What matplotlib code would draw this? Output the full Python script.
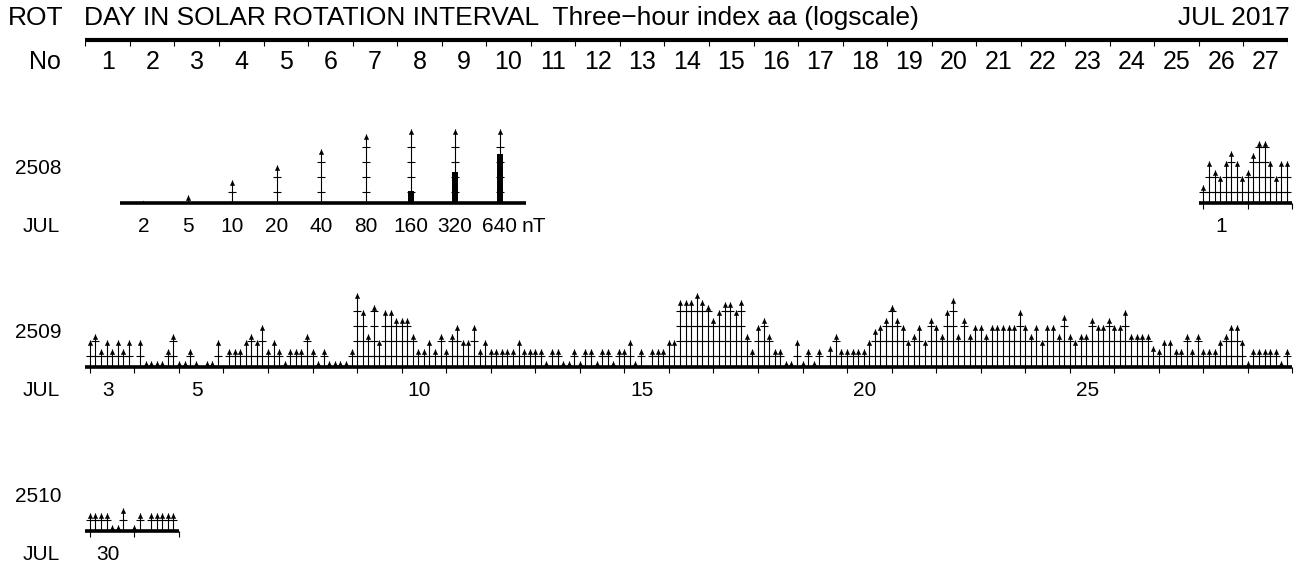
import numpy as np
import matplotlib.pyplot as plt
from matplotlib.path import Path

plt.rcParams['font.family'] = ['Liberation Sans', 'DejaVu Sans']

# ---- data (three-hour aa, nT), 8 values per UT day ----
rotations = [2508, 2509, 2510]
month = "JUL"
title_date = "JUL 2017"

# first UT day shown in each rotation row, and its position (rotation day)
first_date = {2508: 1, 2509: 3, 2510: 30}
first_day_pos = {2508: 25.1, 2509: 0.1, 2510: 0.1}

aa_2508 = [8, 24, 16, 12, 24, 38, 24, 12,
           16, 34, 59, 59, 24, 12, 24, 24]

aa_2509 = [12, 16, 8, 12, 8, 12, 8, 12,
           2, 12, 4.6, 4.6, 4.6, 4.6, 8, 16,
           4.6, 4.6, 8, 4.6, 2, 4.6, 4.6, 12,
           2, 8, 8, 8, 12, 16, 12, 24,
           8, 12, 8, 4.6, 8, 8, 8, 16,
           8, 4.6, 8, 4.6, 4.6, 4.6, 4.6, 8,
           100, 46, 16, 59, 12, 46, 46, 32,
           32, 32, 16, 8, 8, 12, 8, 16,
           8, 16, 24, 12, 12, 24, 8, 12,
           8, 8, 8, 8, 8, 12, 8, 8,
           8, 8, 4.6, 8, 8, 4.6, 4.6, 8,
           4.6, 8, 8, 4.6, 8, 8, 4.6, 8,
           8, 12, 4.6, 8, 2, 8, 8, 8,
           12, 12, 74, 74, 74, 100, 74, 59,
           32, 46, 66, 66, 46, 74, 16, 8,
           24, 32, 16, 8, 8, 4.6, 4.6, 12,
           4.6, 8, 4.6, 8, 2, 9, 16, 8,
           8, 8, 8, 8, 12, 20, 24, 32,
           59, 32, 24, 12, 16, 24, 12, 32,
           24, 16, 46, 80, 16, 32, 16, 24,
           24, 16, 24, 24, 24, 24, 24, 46,
           24, 16, 24, 12, 24, 24, 16, 38,
           16, 12, 16, 16, 32, 24, 24, 32,
           24, 24, 46, 16, 16, 16, 16, 9,
           8, 12, 12, 8, 8, 16, 8, 16,
           8, 8, 8, 12, 16, 24, 24, 12,
           4.6, 8, 8, 8, 8, 8, 4.6, 8]

aa_2510 = [8, 8, 8, 8, 4.6, 4.6, 10, 2,
           4.6, 8, 2, 8, 8, 8, 8, 8]

aa_data = {2508: aa_2508, 2509: aa_2509, 2510: aa_2510}

legend_vals = [2, 5, 10, 20, 40, 80, 160, 320, 640]

# ---- scale settings ----
W, H = 1301, 565
PX = 15.25            # pixels per doubling of aa
BASE = 3.5            # aa value at baseline
CAP = 101.0           # stems are cut here, excess shown as bar
LEVELS = [5.65 * 2 ** k for k in range(5)]
X0, X1 = 85.4, 1288.0
ROW0, ROW_STEP = 203, 164
FS_TITLE = 19
FS_HEAD = 18
FS_ROW = 15

fig = plt.figure(figsize=(W / 100, H / 100), dpi=100)

head = Path([(0, 0), (-0.5, -1), (0.5, -1), (0, 0)],
            [Path.MOVETO, Path.LINETO, Path.LINETO, Path.CLOSEPOLY])


def draw_stems(ax, x, v):
    x = np.asarray(x, float)
    v = np.asarray(v, float)
    tip = np.minimum(v, CAP)
    big = tip >= BASE
    ax.vlines(x[big], BASE, tip[big], color='k', lw=0.8, clip_on=False)
    ax.plot(x[big], tip[big], ls='none', marker=head, ms=7.6, mew=0,
            color='k', clip_on=False)
    small = ~big
    if small.any():
        ax.plot(x[small], np.full(small.sum(), BASE * 2 ** (2.5 / PX)),
                ls='none', marker=head, ms=3.5, mew=0, color='k',
                clip_on=False)
    for lev in LEVELS:
        m = tip > lev * 1.2
        if m.any():
            ax.plot(x[m], np.full(m.sum(), lev), ls='none', marker='_',
                    ms=5.2, mew=0.8, color='k', clip_on=False)
    over = v > CAP
    if over.any():
        top = BASE * 2 ** (18.2 * np.log2(v[over] / 100) / PX)
        ax.vlines(x[over], BASE, top, color='k', lw=4.3, clip_on=False)


def row_axes(baseline):
    ax = fig.add_axes([X0 / W, 1 - (baseline + PX) / H,
                       (X1 - X0) / W, 7 * PX / H])
    ax.set_yscale('log', base=2)
    ax.set_xlim(0, 27)
    ax.set_ylim(BASE / 2, BASE * 64)
    ax.set_axis_off()
    return ax


# ---- header ----
fig.text(8 / W, 1 - 18 / H, "ROT", fontsize=FS_TITLE, va='center')
fig.text(84 / W, 1 - 18 / H,
         "DAY IN SOLAR ROTATION INTERVAL  Three\u2212hour index aa (logscale)",
         fontsize=FS_TITLE, va='center')
fig.text(1290 / W, 1 - 18 / H, title_date, fontsize=FS_TITLE, va='center',
         ha='right')
fig.text(61 / W, 1 - 62 / H, "No", fontsize=FS_HEAD, va='center', ha='right')

axh = fig.add_axes([X0 / W, 1 - 75 / H, (X1 - X0) / W, 45 / H])
axh.set_xlim(0, 27)
axh.set_ylim(75, 30)
axh.set_axis_off()
axh.hlines(40, 0, 27.08, color='k', lw=3)
axh.vlines(np.arange(28), 40, 46, color='k', lw=0.8)
for d in range(27):
    axh.text(d + 0.5, 62, str(d + 1), fontsize=FS_HEAD, ha='center',
             va='center')

# ---- rotation rows ----
for r, rot in enumerate(rotations):
    baseline = ROW0 + ROW_STEP * r
    ax = row_axes(baseline)
    vals = aa_data[rot]
    start = first_day_pos[rot]
    ndays = len(vals) // 8
    x = start + np.arange(len(vals)) / 8
    ax.hlines(BASE, start - 0.1, start + ndays, color='k', lw=2.6,
              clip_on=False)
    ax.vlines(start + np.arange(ndays + 1), BASE * 2 ** (-6 / PX), BASE,
              color='k', lw=0.8, clip_on=False)
    draw_stems(ax, x, vals)

    ylab = BASE * 2 ** (-23 / PX)
    for d in range(ndays):
        date = first_date[rot] + d
        if d == 0 or date % 5 == 0:
            ax.text(np.floor(start + d) + 0.5, ylab, str(date),
                    fontsize=FS_ROW, ha='center', va='center')

    fig.text(62 / W, 1 - (baseline - 35) / H, str(rot), fontsize=FS_ROW,
             ha='right', va='center')
    fig.text(60 / W, 1 - (baseline + 23) / H, month, fontsize=FS_ROW,
             ha='right', va='center')

    if r == 0:
        lx = 1.3 + np.arange(len(legend_vals))
        ax.hlines(BASE, lx[0] - 0.52, lx[-1] + 0.6, color='k', lw=2.6,
                  clip_on=False)
        draw_stems(ax, lx, legend_vals)
        for xx, lv in zip(lx, legend_vals):
            ax.text(xx, ylab, str(lv), fontsize=FS_ROW, ha='center',
                    va='center')
        ax.text(lx[-1] + 0.5, ylab, "nT", fontsize=FS_ROW, ha='left',
                va='center')

fig.savefig("out.png", dpi=100)
